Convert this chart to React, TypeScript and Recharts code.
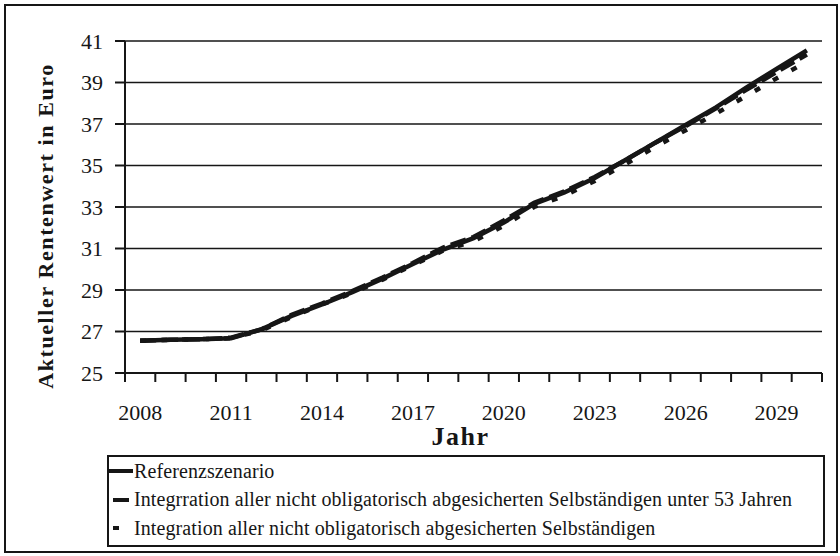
import { LineChart, Line, XAxis, YAxis, CartesianGrid, Legend } from 'recharts';

const years = [
  2008, 2009, 2010, 2011, 2012, 2013, 2014, 2015, 2016, 2017, 2018, 2019,
  2020, 2021, 2022, 2023, 2024, 2025, 2026, 2027, 2028, 2029, 2030,
];
const referenz = [
  26.55, 26.6, 26.63, 26.68, 27.1, 27.75, 28.3, 28.9, 29.55, 30.25, 30.95, 31.5,
  32.25, 33.15, 33.7, 34.4, 35.25, 36.1, 36.95, 37.8, 38.75, 39.65, 40.55,
];
const unter53 = [
  26.55, 26.6, 26.63, 26.7, 27.1, 27.8, 28.35, 28.95, 29.6, 30.3, 31.05, 31.55,
  32.35, 33.2, 33.75, 34.45, 35.25, 36.1, 36.9, 37.75, 38.65, 39.5, 40.35,
];
const alleSelbst = [
  26.55, 26.6, 26.63, 26.68, 27.05, 27.7, 28.3, 28.85, 29.5, 30.2, 30.9, 31.35,
  32.1, 33.0, 33.55, 34.25, 35.05, 35.9, 36.7, 37.5, 38.35, 39.2, 40.0,
];
const yearTicks = [2008, 2011, 2014, 2017, 2020, 2023, 2026, 2029];
const valueTicks = [25, 27, 29, 31, 33, 35, 37, 39, 41];
const seriesNames = [
  'Referenzszenario',
  'Integrration aller nicht obligatorisch abgesicherten Selbständigen unter 53 Jahren',
  'Integration aller nicht obligatorisch abgesicherten Selbständigen',
];

const data = years.map((year, i) => ({
  year,
  referenz: referenz[i],
  unter53: unter53[i],
  alle: alleSelbst[i],
}));
// tick marks sit between the years, like category boundaries
const bandEdges = [...years.map((y) => y - 0.5), years[years.length - 1] + 0.5];

const FONT = '"Liberation Serif", "Times New Roman", serif';
const INK = '#161616';
const dashes = ['', '16 6', '6 15'];

function YLabel(props: any) {
  const { viewBox } = props;
  const x = viewBox.x - 20;
  const y = viewBox.y + viewBox.height / 2 + 19;
  return (
    <text
      x={x}
      y={y}
      transform={`rotate(-90, ${x}, ${y})`}
      textAnchor="middle"
      dominantBaseline="central"
      fontFamily={FONT}
      fontWeight="bold"
      fontSize={22}
      letterSpacing={1.6}
      fill={INK}
    >
      Aktueller Rentenwert in Euro
    </text>
  );
}

function XLabel(props: any) {
  const { viewBox } = props;
  return (
    <text
      x={viewBox.x + viewBox.width / 2 - 13}
      y={viewBox.y + 71}
      textAnchor="middle"
      fontFamily={FONT}
      fontWeight="bold"
      fontSize={26}
      letterSpacing={1.5}
      fill={INK}
    >
      Jahr
    </text>
  );
}

function BandTick() {
  return <g />;
}

function LegendBox() {
  return (
    <div
      style={{
        boxSizing: 'border-box',
        width: 718,
        height: 92,
        border: `2px solid ${INK}`,
        background: '#fff',
        fontFamily: FONT,
        fontSize: 20,
        letterSpacing: 0.1,
        color: INK,
        paddingTop: 0,
      }}
    >
      {seriesNames.map((name, i) => (
        <div key={name} style={{ display: 'flex', alignItems: 'center', height: 28.5 }}>
          <svg width={24} height={10} style={{ marginRight: 1 }}>
            <line
              x1={0}
              y1={5}
              x2={24}
              y2={5}
              stroke={INK}
              strokeWidth={4}
              strokeDasharray={dashes[i] || undefined}
              strokeDashoffset={i === 0 ? 0 : -4}
            />
          </svg>
          <span>{name}</span>
        </div>
      ))}
    </div>
  );
}

export default function App() {
  return (
    <div style={{ position: 'absolute', left: 0, top: 0, width: 840, height: 556, background: '#fff' }}>
      <div
        style={{
          position: 'absolute',
          left: 4,
          top: 4,
          width: 834,
          height: 549,
          boxSizing: 'border-box',
          border: `2px solid ${INK}`,
        }}
      />
      <div style={{ position: 'absolute', left: 0, top: 0 }}>
        <LineChart
          width={840}
          height={556}
          data={data}
          margin={{ top: 41, right: 18, left: 65, bottom: 152 }}
        >
          <CartesianGrid xAxisId="years" vertical={false} stroke={INK} strokeWidth={1.5} />
          <XAxis
            xAxisId="bands"
            type="number"
            dataKey="year"
            domain={[2007.5, 2030.5]}
            ticks={bandEdges}
            interval={0}
            tick={BandTick}
            height={1}
            tickSize={9}
            axisLine={{ stroke: INK, strokeWidth: 2 }}
            tickLine={{ stroke: INK, strokeWidth: 2 }}
          />
          <XAxis
            xAxisId="years"
            type="number"
            dataKey="year"
            domain={[2007.5, 2030.5]}
            ticks={yearTicks}
            interval={0}
            height={30}
            axisLine={false}
            tickLine={false}
            tickMargin={24}
            tick={{ fill: INK, fontSize: 22, fontFamily: FONT }}
            label={{ content: XLabel }}
          />
          <YAxis
            type="number"
            domain={[25, 41]}
            ticks={valueTicks}
            width={60}
            tickSize={10}
            tickMargin={12}
            axisLine={{ stroke: INK, strokeWidth: 2 }}
            tickLine={{ stroke: INK, strokeWidth: 2 }}
            tick={{ fill: INK, fontSize: 22, fontFamily: FONT }}
            label={{ content: YLabel }}
          />
          <Legend
            layout="horizontal"
            verticalAlign="middle"
            align="center"
            wrapperStyle={{ top: 455, left: 107, width: 718, height: 92 }}
            content={() => <LegendBox />}
          />
          <Line
            xAxisId="years"
            type="linear"
            dataKey="alle"
            name={seriesNames[2]}
            stroke={INK}
            strokeWidth={4.5}
            strokeDasharray={dashes[2]}
            dot={false}
            isAnimationActive={false}
          />
          <Line
            xAxisId="years"
            type="linear"
            dataKey="unter53"
            name={seriesNames[1]}
            stroke={INK}
            strokeWidth={4.5}
            strokeDasharray={dashes[1]}
            dot={false}
            isAnimationActive={false}
          />
          <Line
            xAxisId="years"
            type="linear"
            dataKey="referenz"
            name={seriesNames[0]}
            stroke={INK}
            strokeWidth={4.5}
            dot={false}
            isAnimationActive={false}
          />
        </LineChart>
      </div>
    </div>
  );
}
